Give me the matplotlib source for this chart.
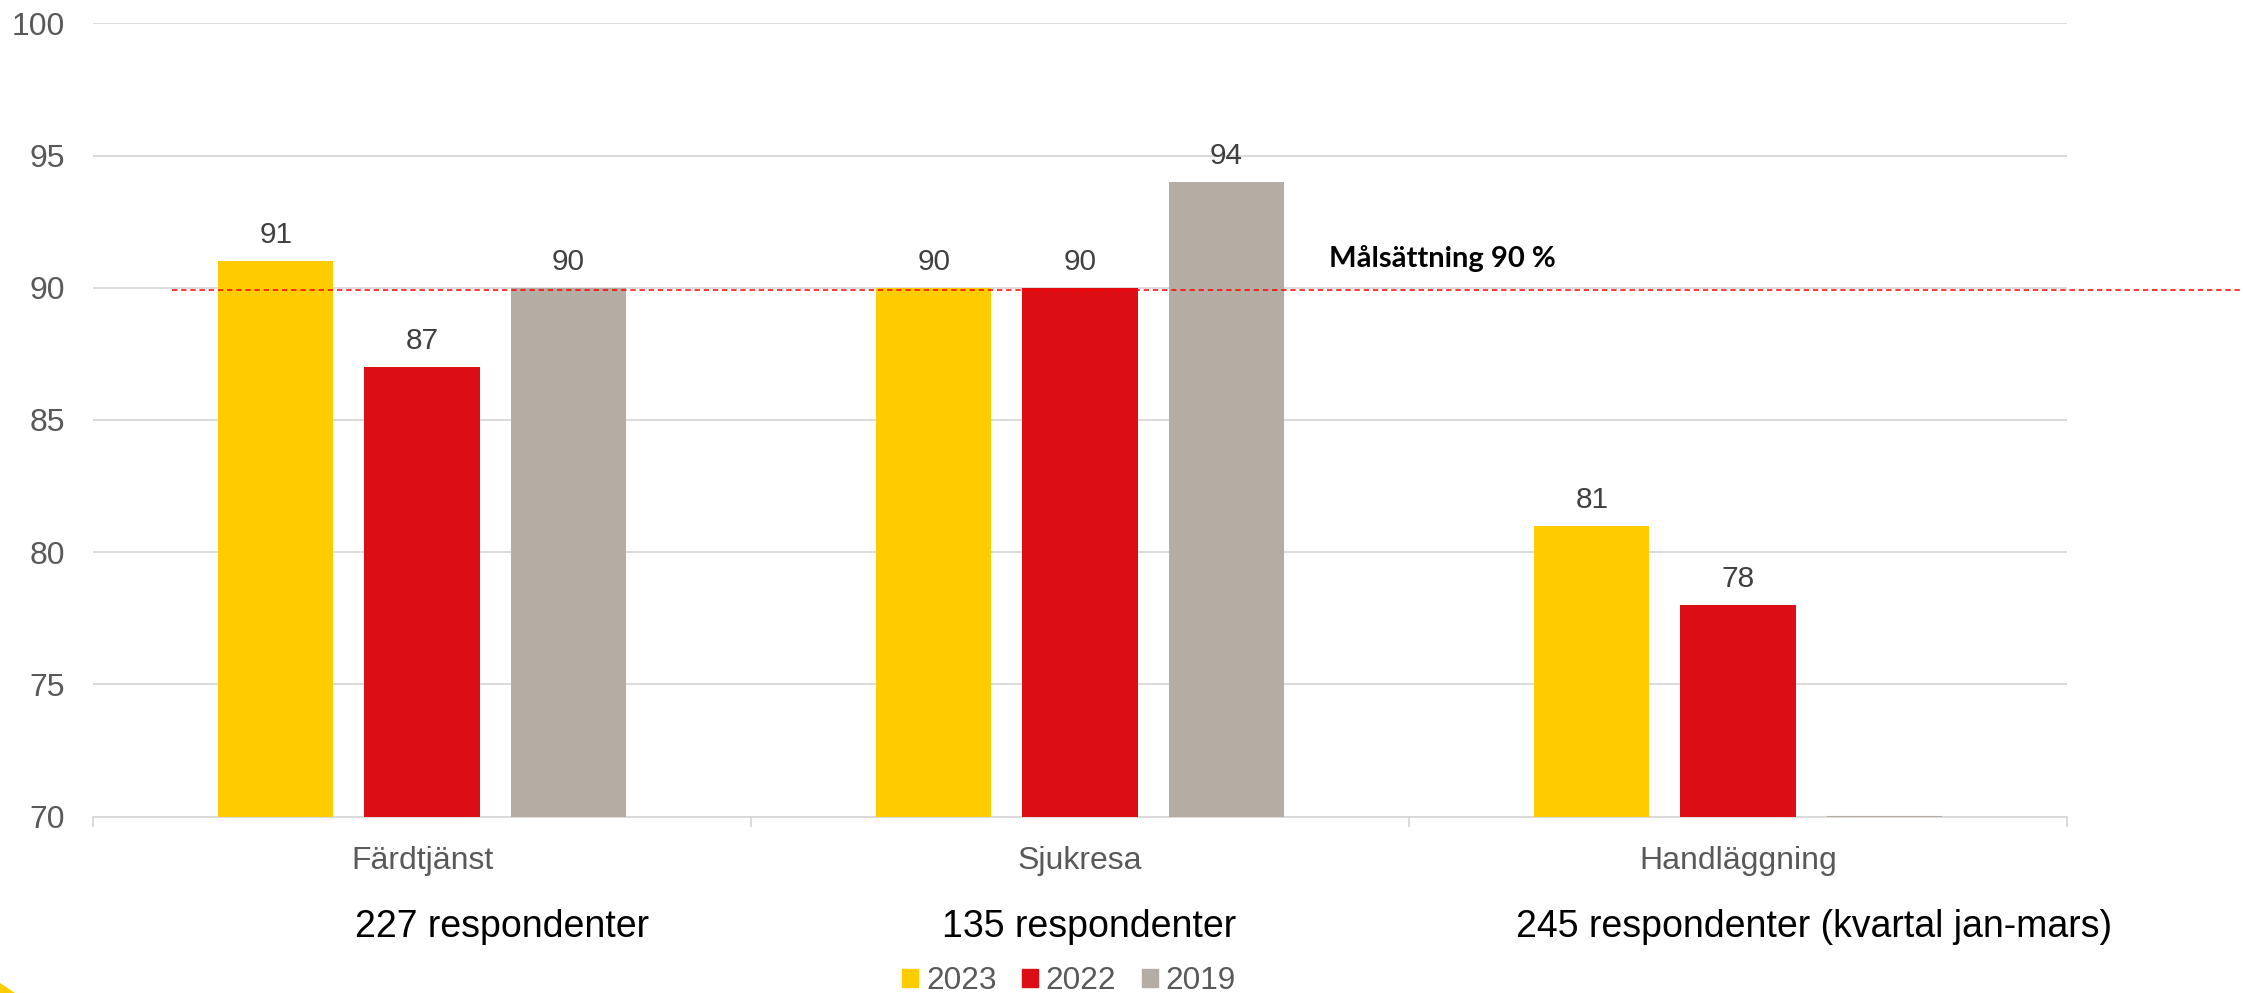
import matplotlib
matplotlib.use("Agg")
import matplotlib.pyplot as plt
from matplotlib.patches import Patch, Polygon
import numpy as np

categories = ["Färdtjänst", "Sjukresa", "Handläggning"]
series_names = ["2023", "2022", "2019"]
values_2023 = [91, 90, 81]
values_2022 = [87, 90, 78]
values_2019 = [90, 94, 70]
respondents = ["227 respondenter", "135 respondenter", "245 respondenter (kvartal jan-mars)"]
target_value = 89.9
target_label = "Målsättning 90 %"
yticks = [70, 75, 80, 85, 90, 95, 100]

colors = ["#FFCC00", "#DC0D15", "#B5ACA3"]
series = [values_2023, values_2022, values_2019]

W, H = 2243, 993
fig = plt.figure(figsize=(W / 100, H / 100), dpi=100)
ax = fig.add_axes([93 / W, (H - 816.5) / H, (2067 - 93) / W, (816.5 - 23.3) / H])

font = "Liberation Sans"
x = np.arange(len(categories))
step = 0.222
width = 0.175
for i, (vals, col) in enumerate(zip(series, colors)):
    xs = x + (i - 1) * step
    heights = [v - 70 for v in vals]
    lws = [1.5 if h == 0 else 0 for h in heights]
    ax.bar(xs, heights, width=width, bottom=70, color=col, edgecolor=col,
           linewidth=lws, zorder=3)
    for xx, v in zip(xs, vals):
        if v > 70:
            ax.annotate(f"{v}", (xx, v), xytext=(0, 13), textcoords="offset points",
                        ha="center", va="baseline", fontsize=21.5, color="#404040",
                        family=font)

ax.set_xlim(-0.5, 2.5)
ax.set_ylim(70, 100)
ax.set_yticks(yticks)
ax.set_yticklabels([str(t) for t in yticks], fontsize=23, color="#595959", family=font)
ax.tick_params(axis="y", length=0, pad=20)
ax.yaxis.grid(True, color="#D9D9D9", linewidth=1.3, zorder=0)
ax.set_axisbelow(True)

ax.set_xticks(x)
ax.set_xticklabels(categories, fontsize=23, color="#595959", family=font)
ax.tick_params(axis="x", which="major", length=0, pad=21)
ax.set_xticks([-0.5, 0.5, 1.5, 2.5], minor=True)
ax.tick_params(axis="x", which="minor", length=7.5, width=1.3, color="#D9D9D9")

for s in ["top", "right", "left"]:
    ax.spines[s].set_visible(False)
ax.spines["bottom"].set_color("#D9D9D9")
ax.spines["bottom"].set_linewidth(1.3)

# target line extending beyond axes
ax.plot([-0.38, 2.767], [target_value, target_value], color="#FF0000", lw=1.1,
        dashes=(3.5, 2.5), clip_on=False, zorder=4)
ax.text(1.378, 90.79, target_label, ha="left", va="baseline", fontsize=21,
        fontweight="bold", family="Lato", color="black")

# respondent texts
resp_x = [502, 1089, 1814]
for rx, t in zip(resp_x, respondents):
    fig.text(rx / W, (H - 937) / H, t, ha="center", va="baseline", fontsize=27,
             color="black", family=font)

handles = [Patch(facecolor=c, edgecolor=c) for c in colors]
leg = fig.legend(handles, series_names, loc="center", bbox_to_anchor=(1069 / W, (H - 981) / H),
                 ncol=3, frameon=False, handlelength=0.51, handleheight=0.51,
                 handletextpad=0.25, columnspacing=0.8, borderpad=0,
                 prop={"family": font, "size": 22.7})
for t in leg.get_texts():
    t.set_color("#595959")

fig.patches.append(Polygon([[0, 0], [0, 10 / H], [15 / W, 0]], closed=True,
                           transform=fig.transFigure, facecolor="#FFCC00", edgecolor="none"))

fig.savefig("out.png", dpi=100)
